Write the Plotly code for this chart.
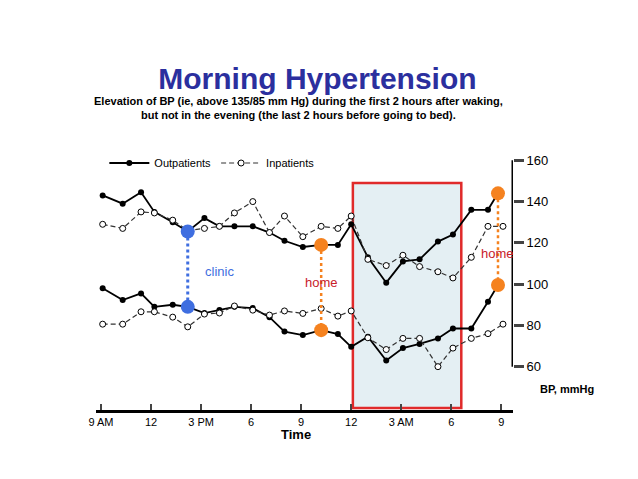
import plotly.graph_objects as go

# hours after 9 AM
out_sys_x = [0.1, 1.3, 2.4, 3.2, 4.3, 5.2, 6.2, 7.1, 8.0, 9.1, 10.1, 11.0, 12.1, 13.2, 14.2, 15.0,
             16.0, 17.1, 18.1, 19.1, 20.2, 21.1, 22.2, 23.2, 23.8]
out_sys_y = [143, 139, 144.5, 135, 130, 125.5, 132, 128, 128, 128, 125, 121, 118, 119, 119, 129,
             113, 100.7, 111, 112, 120.6, 124, 136, 136, 144]
in_sys_x = [0.1, 1.3, 2.4, 3.2, 4.3, 5.2, 6.2, 7.1, 8.0, 9.1, 10.1, 11.0, 12.1, 13.2, 14.2, 15.0,
            16.0, 17.1, 18.1, 19.1, 20.2, 21.1, 22.2, 23.2, 24.1]
in_sys_y = [129, 127, 135, 134.5, 131, 126, 127, 128, 134.5, 140, 125, 133, 123, 128, 127, 133,
            112, 109, 114, 108.5, 106, 103, 113, 128, 128]
out_dia_x = out_sys_x
out_dia_y = [98, 92.3, 95.5, 89, 90, 89, 86, 87.5, 89, 88.4, 84, 77, 75.3, 77.7, 75.8, 69.6,
             74.5, 63, 69, 71, 73.7, 78.5, 78.5, 91.5, 99.6]
in_dia_x = in_sys_x
in_dia_y = [80.6, 80.6, 86.6, 86.6, 84, 79.3, 85.5, 86, 89.4, 87.4, 85, 87, 85.8, 88.2, 84.5, 87,
            74, 68.3, 73.7, 73.7, 60, 69, 73.7, 76, 80.6]

clinic_x = [5.2, 5.2]
clinic_y = [125.5, 89]
home1_x = [13.2, 13.2]
home1_y = [119, 77.7]
home2_x = [23.8, 23.8]
home2_y = [144, 99.6]

x_ticks = [0, 3, 6, 9, 12, 15, 18, 21, 24]
x_labels = ["9 AM", "12", "3 PM", "6", "9", "12", "3 AM", "6", "9"]
y_ticks = [60, 80, 100, 120, 140, 160]

BLUE = "#3f6ee0"
ORANGE = "#f5821f"
RED = "#c8202a"

fig = go.Figure()

fig.add_shape(type="rect", x0=15.1, x1=21.6, y0=40, y1=149, xref="x", yref="y",
              fillcolor="#e4eff3", line=dict(color="#e02a2a", width=2.5), layer="below")

for xs, ys, name, show in [(out_sys_x, out_sys_y, "Outpatients", True),
                           (out_dia_x, out_dia_y, "Outpatients", False)]:
    fig.add_trace(go.Scatter(x=xs, y=ys, mode="lines+markers", name=name, showlegend=show,
                             line=dict(color="black", width=1.8),
                             marker=dict(color="black", size=6)))
for xs, ys, name, show in [(in_sys_x, in_sys_y, "Inpatients", True),
                           (in_dia_x, in_dia_y, "Inpatients", False)]:
    fig.add_trace(go.Scatter(x=xs, y=ys, mode="lines+markers", name=name, showlegend=show,
                             line=dict(color="#333", width=1.2, dash="5px,3px"),
                             marker=dict(color="white", size=6, line=dict(color="black", width=1))))

for xs, ys, col in [(clinic_x, clinic_y, BLUE), (home1_x, home1_y, ORANGE), (home2_x, home2_y, ORANGE)]:
    fig.add_trace(go.Scatter(x=xs, y=ys, mode="lines+markers", showlegend=False,
                             line=dict(color=col, width=3 if col == BLUE else 2.5, dash="dot"),
                             marker=dict(color=col, size=14)))

fig.add_shape(type="line", x0=24.7, x1=24.7, y0=60, y1=160, xref="x", yref="y",
              line=dict(color="black", width=3))

fig.add_annotation(x=6.1, y=106, text="clinic", showarrow=False, xanchor="left",
                   font=dict(color=BLUE, size=13))
fig.add_annotation(x=13.2, y=101, text="home", showarrow=False,
                   font=dict(color=RED, size=13))
fig.add_annotation(x=23.8, y=115, text="home", showarrow=False,
                   font=dict(color=RED, size=13))
fig.add_annotation(xref="paper", yref="paper", x=1.06, y=0.05, text="<b>BP, mmHg</b>",
                   showarrow=False, font=dict(size=11, color="black"), xanchor="left")
fig.add_annotation(xref="paper", yref="paper", x=0.48, y=-0.13, text="<b>Time</b>",
                   showarrow=False, font=dict(size=13, color="black"))

fig.update_layout(
    width=638, height=479,
    paper_bgcolor="white", plot_bgcolor="white",
    margin=dict(l=88, r=133, t=142, b=77),
    font=dict(family="Liberation Sans, Arial", color="black"),
    title=dict(text="<b>Morning Hypertension</b>", x=0.485, xanchor="center", y=0.875,
               font=dict(size=30, color="#2b2f9e")),
    legend=dict(orientation="h", x=0.02, y=0.95, xanchor="left", yanchor="middle",
                font=dict(size=11), bgcolor="rgba(0,0,0,0)", itemwidth=40),
    xaxis=dict(range=[-0.3, 24.7], tickvals=x_ticks, ticktext=x_labels, showgrid=False,
               zeroline=False, showline=True, linecolor="black", linewidth=2.5,
               ticks="inside", ticklen=6, tickwidth=2, tickfont=dict(size=11)),
    yaxis=dict(range=[39, 165], side="right", tickvals=y_ticks, showgrid=False,
               zeroline=False, showline=False, ticks="outside", ticklen=10, tickwidth=3,
               tickfont=dict(size=13)),
)

fig.add_annotation(xref="paper", yref="paper", x=0.485, y=1.22, showarrow=False,
                   text="<b>Elevation of BP (ie, above 135/85 mm Hg) during the first 2 hours after waking,<br>"
                        "but not in the evening (the last 2 hours before going to bed).</b>",
                   font=dict(size=11))

fig.write_html("out.html")
